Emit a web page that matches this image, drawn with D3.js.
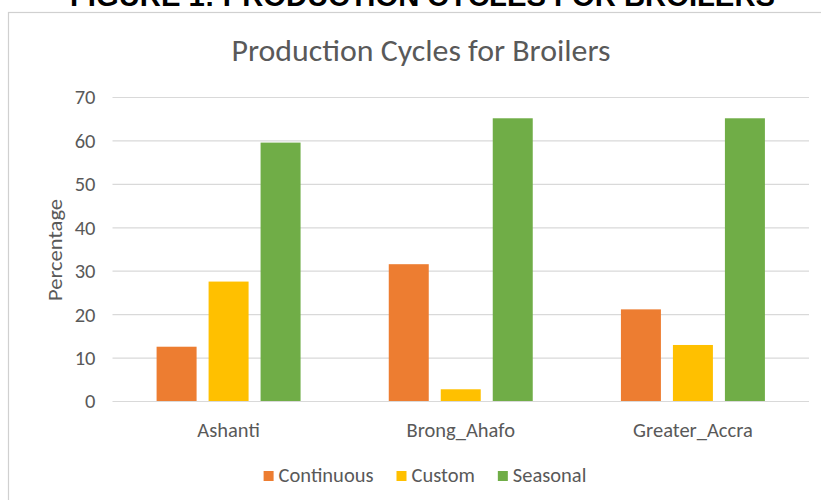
<!DOCTYPE html>
<html>
<head>
<meta charset="utf-8">
<script src="https://cdn.jsdelivr.net/npm/d3@7"></script>
<style>
  html, body { margin: 0; padding: 0; background: #fff; }
  svg { display: block; }
</style>
</head>
<body>
<svg id="chart" width="821" height="500"></svg>
<script>
// ---- data ----
const categories = ["Ashanti", "Brong_Ahafo", "Greater_Accra"];
const seriesNames = ["Continuous", "Custom", "Seasonal"];
const continuousValues = [12.5, 31.5, 21.1];
const customValues = [27.5, 2.7, 12.9];
const seasonalValues = [59.5, 65.1, 65.1];
const yTicks = [0, 10, 20, 30, 40, 50, 60, 70];
const seriesColors = ["#ED7D31", "#FFC000", "#70AD47"];
const figureHeading = "FIGURE 1: PRODUCTION CYCLES FOR BROILERS";
const chartTitle = "Production Cycles for Broilers";
const yAxisTitle = "Percentage";

const seriesValues = [continuousValues, customValues, seasonalValues];
const table = categories.map((c, i) => ({
  category: c,
  values: seriesNames.map((s, j) => ({ series: s, value: seriesValues[j][i] }))
}));

// ---- layout ----
const FONT = "Carlito, Calibri, Lato, 'Open Sans', sans-serif";
const TEXT = "#595959";
const svg = d3.select("#chart");

function fitWidth(sel, target) {
  const w = sel.node().getComputedTextLength();
  if (Math.abs(w - target) > 2) {
    sel.attr("textLength", target).attr("lengthAdjust", "spacingAndGlyphs");
  }
  return sel;
}

// figure heading (cut at top, as in the source page)
const heading = svg.append("text")
  .attr("x", 422.5).attr("y", 6)
  .attr("text-anchor", "middle")
  .attr("font-family", "'Liberation Sans', Arial, sans-serif")
  .attr("font-weight", "bold")
  .attr("font-size", 29)
  .attr("fill", "#000")
  .text(figureHeading);
fitWidth(heading, 705);

// chart box
svg.append("rect")
  .attr("x", 8.5).attr("y", 12.5)
  .attr("width", 900).attr("height", 600)
  .attr("fill", "#fff")
  .attr("stroke", "#d0d0d0")
  .attr("stroke-width", 1.2);

const x0 = 112.5, x1 = 809, yTop = 97, yBottom = 401;

const x = d3.scaleBand().domain(categories).range([x0, x1]);
const xInner = d3.scaleBand().domain(seriesNames).range([0, x.bandwidth()])
  .paddingInner(12 / 52).paddingOuter(0.848);
const y = d3.scaleLinear().domain([0, 70]).range([yBottom, yTop]);
const color = d3.scaleOrdinal().domain(seriesNames).range(seriesColors);

// title
const title = svg.append("text")
  .attr("x", 421).attr("y", 61)
  .attr("text-anchor", "middle")
  .attr("font-family", FONT)
  .attr("font-size", 31.5)
  .attr("fill", TEXT)
  .text(chartTitle);
fitWidth(title, 379);

// gridlines + y axis labels
const yAxis = d3.axisLeft(y).tickValues(yTicks).tickSize(-(x1 - x0)).tickPadding(17);
const gY = svg.append("g").attr("transform", `translate(${x0},0)`).call(yAxis);
gY.select(".domain").remove();
gY.selectAll(".tick line").attr("stroke", "#d9d9d9").attr("stroke-width", 1.2);
gY.selectAll(".tick text")
  .attr("font-family", FONT)
  .attr("font-size", 20.5)
  .attr("fill", TEXT)
  .attr("dy", "0.34em");

// bars
const groups = svg.append("g").selectAll("g")
  .data(table).join("g")
  .attr("transform", d => `translate(${x(d.category)},0)`);
groups.selectAll("rect")
  .data(d => d.values).join("rect")
  .attr("x", d => xInner(d.series))
  .attr("width", xInner.bandwidth())
  .attr("y", d => y(d.value))
  .attr("height", d => y(0) - y(d.value))
  .attr("fill", d => color(d.series));

// x axis labels
const xAxis = d3.axisBottom(x).tickSize(0).tickPadding(0);
const gX = svg.append("g").attr("transform", `translate(0,${yBottom})`).call(xAxis);
gX.select(".domain").remove();
gX.selectAll(".tick text")
  .attr("font-family", FONT)
  .attr("font-size", 20.5)
  .attr("fill", TEXT)
  .attr("y", 36)
  .attr("dy", 0);

// y axis title
const yt = svg.append("text")
  .attr("transform", "translate(62,250) rotate(-90)")
  .attr("text-anchor", "middle")
  .attr("font-family", FONT)
  .attr("font-size", 21)
  .attr("fill", TEXT)
  .text(yAxisTitle);
fitWidth(yt, 102);

// legend
const legend = svg.append("g");
const items = legend.selectAll("g").data(seriesNames).join("g");
items.append("rect")
  .attr("width", 10).attr("height", 10)
  .attr("y", 471)
  .attr("fill", d => color(d));
items.append("text")
  .attr("x", 15).attr("y", 481.5)
  .attr("font-family", FONT)
  .attr("font-size", 20.5)
  .attr("fill", TEXT)
  .text(d => d);
let widths = [];
items.each(function() { widths.push(15 + d3.select(this).select("text").node().getComputedTextLength()); });
const gap = 23;
const total = d3.sum(widths) + gap * (widths.length - 1);
let cx = 425 - total / 2;
items.attr("transform", (d, i) => {
  const t = `translate(${cx},0)`;
  cx += widths[i] + gap;
  return t;
});
</script>
</body>
</html>
